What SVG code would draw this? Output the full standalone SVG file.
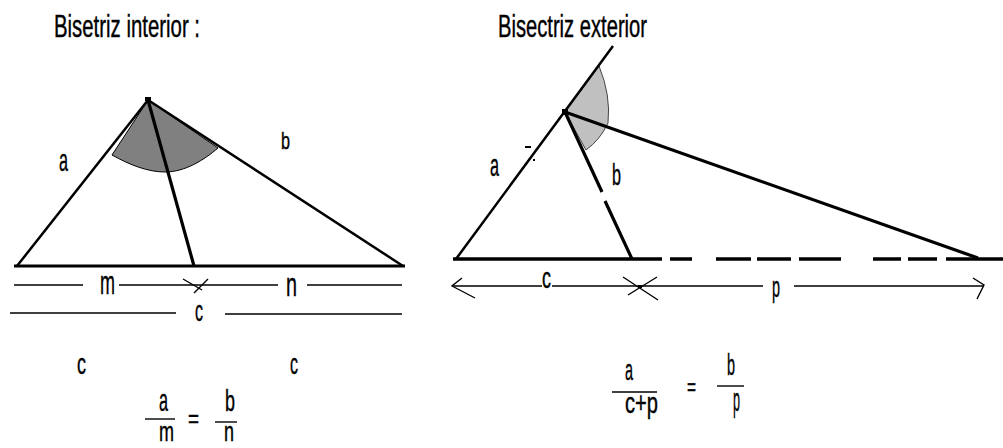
<svg xmlns="http://www.w3.org/2000/svg" width="1003" height="448" viewBox="0 0 1003 448">
<style>
text{font-family:"Liberation Sans",Arial,sans-serif;fill:#000;stroke:#000;stroke-width:0.4;}
.s{stroke:#000;fill:none;stroke-linecap:butt;}
.side{stroke-width:2.5;}
.thick{stroke-width:3.2;}
.thin{stroke-width:1.4;}
</style>
<rect width="1003" height="448" fill="#fff"/>
<g id="interior">
  <text x="54" y="37" font-size="32" textLength="146" lengthAdjust="spacingAndGlyphs">Bisetriz interior :</text>
  <path d="M148,100 L112,155 C130,165 148,172 165,172 C185,172 204,160 218,148 Z" fill="#808080" stroke="#000" stroke-width="1"/>
  <line class="s side" x1="17" y1="266" x2="148" y2="100"/>
  <line class="s side" x1="148" y1="100" x2="403" y2="266"/>
  <line class="s thick" x1="14" y1="266" x2="405" y2="266"/>
  <line class="s thick" x1="148" y1="100" x2="194" y2="266"/>
  <rect x="145" y="97" width="6" height="4" fill="#000"/>
  <text x="59" y="171" font-size="32" textLength="9" lengthAdjust="spacingAndGlyphs">a</text>
  <text x="281" y="149" font-size="24" textLength="9" lengthAdjust="spacingAndGlyphs">b</text>
  <path class="s thin" d="M14,285 H83 M119,285 H278 M307,285 H402 M10,313 H176 M225,314 H402"/>
  <path class="s thin" d="M183,279 L202,290 M208,279 L194,293"/>
  <text x="100" y="294" font-size="34" textLength="15" lengthAdjust="spacingAndGlyphs">m</text>
  <text x="286" y="296" font-size="34" textLength="11" lengthAdjust="spacingAndGlyphs">n</text>
  <text x="195" y="321" font-size="29" textLength="8" lengthAdjust="spacingAndGlyphs">c</text>
  <text x="77" y="374" font-size="29" textLength="9" lengthAdjust="spacingAndGlyphs">c</text>
  <text x="290" y="374" font-size="29" textLength="8" lengthAdjust="spacingAndGlyphs">c</text>
  <text x="159" y="411" font-size="32" textLength="9" lengthAdjust="spacingAndGlyphs">a</text>
  <line class="s thin" x1="145" y1="419" x2="175" y2="419"/>
  <text x="159" y="441" font-size="27" textLength="15" lengthAdjust="spacingAndGlyphs">m</text>
  <text x="188" y="427" font-size="26" textLength="11" lengthAdjust="spacingAndGlyphs">=</text>
  <text x="225" y="411" font-size="29" textLength="10" lengthAdjust="spacingAndGlyphs">b</text>
  <line class="s thin" x1="215" y1="422" x2="237" y2="422"/>
  <text x="224" y="441" font-size="27" textLength="10" lengthAdjust="spacingAndGlyphs">n</text>
</g>
<g id="exterior">
  <text x="498" y="37" font-size="31" textLength="149" lengthAdjust="spacingAndGlyphs">Bisectriz exterior</text>
  <path d="M565,112 L599,66 Q611,95 608,123 Q600,140 586,150 Z" fill="#c0c0c0" stroke="#444" stroke-width="1"/>
  <line class="s side" x1="456" y1="259" x2="613" y2="46"/>
  <line class="s thick" x1="565" y1="112" x2="978" y2="258"/>
  <path class="s thick" d="M565,112 L602,192 M605,201 L632,259"/>
  <rect x="562" y="109" width="6" height="6" fill="#000"/>
  <line class="s" stroke-width="2" x1="525" y1="147" x2="531" y2="147"/>
  <rect x="533" y="159" width="2" height="2" fill="#000"/>
  <path class="s" stroke-width="3.5" d="M453,259 H662 M670,259 H692 M716,259 H751 M757,259 H791 M799,259 H841 M873,259 H901 M908,259 H937 M946,259 H1003"/>
  <text x="490" y="176" font-size="31" textLength="9" lengthAdjust="spacingAndGlyphs">a</text>
  <text x="612" y="185" font-size="30" textLength="9" lengthAdjust="spacingAndGlyphs">b</text>
  <path class="s thin" d="M452,286 H542 M552,286 H763 M794,286 H983"/>
  <path class="s thin" d="M462,278 L452,286 L475,298 M973,278 L984,285 L977,299"/>
  <path class="s thin" d="M623,277 L658,300 M657,277 L628,295"/>
  <rect x="638" y="285" width="4" height="3" fill="#000"/>
  <text x="542" y="288" font-size="29" textLength="9" lengthAdjust="spacingAndGlyphs">c</text>
  <text x="772" y="297" font-size="29" textLength="8" lengthAdjust="spacingAndGlyphs">p</text>
  <text x="625" y="380" font-size="29" textLength="8" lengthAdjust="spacingAndGlyphs">a</text>
  <line class="s thin" x1="612" y1="392" x2="657" y2="392"/>
  <text x="625" y="413" font-size="29" textLength="33" lengthAdjust="spacingAndGlyphs">c+p</text>
  <text x="687" y="395" font-size="23" textLength="9" lengthAdjust="spacingAndGlyphs">=</text>
  <text x="727" y="375" font-size="30" textLength="8" lengthAdjust="spacingAndGlyphs">b</text>
  <line class="s thin" x1="717" y1="386" x2="744" y2="386"/>
  <text x="733" y="411" font-size="34" textLength="7" lengthAdjust="spacingAndGlyphs">p</text>
</g>
</svg>
